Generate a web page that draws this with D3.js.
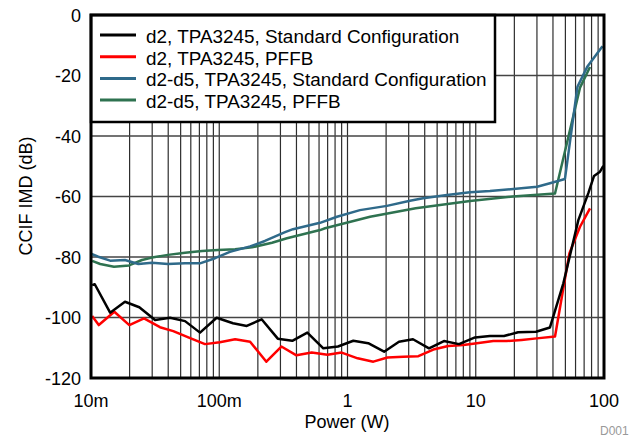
<!DOCTYPE html>
<html>
<head>
<meta charset="utf-8">
<script src="https://cdn.jsdelivr.net/npm/d3@7"></script>
<style>
  body { margin: 0; background: #fff; }
  svg { display: block; font-family: "Liberation Sans", Arial, sans-serif; }
</style>
</head>
<body>
<svg id="chart" width="629" height="439"></svg>
<script>
// CCIF IMD vs output power, TPA3245

// power values (W) and IMD (dB)
var d2StdPower = [0.0102, 0.0107, 0.0141, 0.0184, 0.0238, 0.0316, 0.0413, 0.0541, 0.0708, 0.0955,
  0.128, 0.164, 0.214, 0.286, 0.371, 0.486, 0.648, 0.843, 1.11, 1.45, 1.93, 2.52, 3.24, 4.32,
  5.65, 7.40, 9.87, 12.9, 16.6, 21.4, 29.5, 37.9, 48.2, 63.1, 75.5, 83.6, 93.1, 98.8];
var d2StdImd = [-89.3, -89, -98.4, -94.8, -96.6, -100.8, -100.1, -101.2, -105, -100.1,
  -101.9, -102.8, -100.6, -107, -107.7, -105, -110.2, -109.6, -107.7, -108.5, -111.3, -108, -107.2, -110.2,
  -107.8, -108.8, -106.6, -106.1, -106.1, -104.9, -104.7, -103.3, -88.7, -67.8, -58.9, -53.2, -51.8, -49.9];

var d2PffbPower = [0.0102, 0.0115, 0.0152, 0.0199, 0.0259, 0.0345, 0.0438, 0.0574, 0.0774, 0.101,
  0.133, 0.174, 0.233, 0.305, 0.400, 0.526, 0.698, 0.901, 1.20, 1.59, 2.05, 2.72, 3.57, 4.67,
  6.11, 8.00, 10.2, 13.7, 17.4, 22.8, 29.9, 41.5, 53.7, 65.0, 77.8];
var d2PffbImd = [-99.5, -102.5, -98.1, -102.5, -100.3, -103.2, -104.5, -106.6, -108.8, -108.2,
  -107.2, -108, -114.6, -109.6, -112.5, -111.6, -112.3, -111.6, -113.5, -114.6, -113.2, -113, -112.8, -110.6,
  -109.4, -109.1, -108.5, -107.8, -107.8, -107.4, -106.9, -106.3, -78.8, -70, -63.9];

var d25StdPower = [0.0101, 0.0114, 0.0141, 0.0184, 0.0234, 0.0299, 0.0398, 0.0541, 0.0708, 0.0927,
  0.121, 0.174, 0.227, 0.326, 0.376, 0.611, 0.828, 1.25, 2.03, 3.07, 3.88, 5.97, 9.02, 12.9,
  30.1, 37.9, 49.6, 62.1, 74.3, 97.3];
var d25StdImd = [-79, -79.9, -81.2, -81, -82.3, -81.9, -82.3, -82.1, -82.1, -80.4,
  -78.3, -76.5, -74.7, -71.8, -70.8, -68.7, -66.7, -64.5, -63.1, -61.4, -60.6, -59.5, -58.6, -58.2,
  -56.8, -55.6, -54.2, -23.7, -17, -10.3];

var d25PffbPower = [0.0102, 0.0118, 0.0151, 0.0198, 0.025, 0.0299, 0.0398, 0.0541, 0.0734, 0.0978,
  0.133, 0.180, 0.258, 0.337, 0.611, 0.668, 1.50, 3.40, 9.02, 19.5, 41.5, 65.0, 77.8];
var d25PffbImd = [-81.3, -82.3, -83.2, -82.8, -81, -80.2, -79.3, -78.6, -78, -77.7,
  -77.4, -76.8, -75.3, -73.8, -71.1, -70.5, -66.7, -63.9, -61.5, -60, -59, -24, -17.2];

var seriesNames = ["d2, TPA3245, Standard Configuration", "d2, TPA3245, PFFB",
  "d2-d5, TPA3245, Standard Configuration", "d2-d5, TPA3245, PFFB"];
var seriesColors = ["#000000", "#ff0000", "#2f6a8a", "#2e7250"];

var xTicks = [0.01, 0.1, 1, 10, 100];
var xTickLabels = ["10m", "100m", "1", "10", "100"];
var yTicks = [-120, -100, -80, -60, -40, -20, 0];

var svg = d3.select("#chart");

// plot area (plotTop: "top" is taken by window.top)
var plotLeft = 91, plotRight = 604, plotTop = 15, plotBottom = 378;

var x = d3.scaleLog().domain([0.01, 100]).range([plotLeft, plotRight]);
var y = d3.scaleLinear().domain([-120, 0]).range([plotBottom, plotTop]);

// log grid: 1..9 in every decade
var gridX = [];
for (var dec = 0.01; dec < 99; dec *= 10) {
  for (var k = 2; k <= 9; k++) gridX.push(dec * k);
  if (dec > 0.011) gridX.push(dec);
}

svg.append("g")
  .selectAll("line")
  .data(gridX)
  .enter()
  .append("line")
  .attr("x1", function(d) { return x(d); })
  .attr("x2", function(d) { return x(d); })
  .attr("y1", plotTop)
  .attr("y2", plotBottom)
  .attr("stroke", "#2e2e2e")
  .attr("stroke-width", 1.2);

svg.append("g")
  .selectAll("line")
  .data(yTicks.slice(1, -1))
  .enter()
  .append("line")
  .attr("x1", plotLeft)
  .attr("x2", plotRight)
  .attr("y1", function(d) { return y(d); })
  .attr("y2", function(d) { return y(d); })
  .attr("stroke", "#444")
  .attr("stroke-width", 1.5);

// curves
var series = [
  [d2StdPower, d2StdImd],
  [d2PffbPower, d2PffbImd],
  [d25StdPower, d25StdImd],
  [d25PffbPower, d25PffbImd]
];

var line = d3.line()
  .x(function(d) { return x(d[0]); })
  .y(function(d) { return y(d[1]); });

// draw pffb curves first, then standard ones on top (same as reference)
[3, 2, 1, 0].forEach(function(i) {
  var pts = d3.zip(series[i][0], series[i][1]);
  svg.append("path")
    .datum(pts)
    .attr("d", line)
    .attr("fill", "none")
    .attr("stroke", seriesColors[i])
    .attr("stroke-width", 2.5)
    .attr("stroke-linejoin", "round");
});

// legend box
svg.append("rect")
  .attr("x", plotLeft)
  .attr("y", plotTop)
  .attr("width", 495 - plotLeft)
  .attr("height", 122 - plotTop)
  .attr("fill", "#fff")
  .attr("stroke", "#000")
  .attr("stroke-width", 2.5);

var leg = svg.append("g")
  .selectAll("g")
  .data(seriesNames)
  .enter()
  .append("g")
  .attr("transform", function(d, i) { return "translate(0," + (35 + i * 21.7) + ")"; });

leg.append("line")
  .attr("x1", 100)
  .attr("x2", 136)
  .attr("stroke", function(d, i) { return seriesColors[i]; })
  .attr("stroke-width", 3);

leg.append("text")
  .attr("x", 146)
  .attr("y", 8)
  .attr("font-size", "18.9px")
  .attr("fill", "#000")
  .text(function(d) { return d; });

// plot frame
svg.append("rect")
  .attr("x", plotLeft)
  .attr("y", plotTop)
  .attr("width", plotRight - plotLeft)
  .attr("height", plotBottom - plotTop)
  .attr("fill", "none")
  .attr("stroke", "#000")
  .attr("stroke-width", 3);

// tick labels
svg.append("g")
  .selectAll("text")
  .data(yTicks)
  .enter()
  .append("text")
  .attr("x", 81)
  .attr("y", function(d) { return y(d) + 6.5; })
  .attr("text-anchor", "end")
  .attr("font-size", "18px")
  .text(function(d) { return d; });

svg.append("g")
  .selectAll("text")
  .data(xTicks)
  .enter()
  .append("text")
  .attr("x", function(d) { return x(d); })
  .attr("y", 407)
  .attr("text-anchor", "middle")
  .attr("font-size", "18px")
  .text(function(d, i) { return xTickLabels[i]; });

// axis titles
svg.append("text")
  .attr("x", 347)
  .attr("y", 428)
  .attr("text-anchor", "middle")
  .attr("font-size", "18px")
  .text("Power (W)");

svg.append("text")
  .attr("transform", "translate(32,196) rotate(-90)")
  .attr("text-anchor", "middle")
  .attr("font-size", "18px")
  .text("CCIF IMD (dB)");

svg.append("text")
  .attr("x", 600)
  .attr("y", 435)
  .attr("font-size", "12px")
  .attr("fill", "#999")
  .text("D001");
</script>
</body>
</html>
